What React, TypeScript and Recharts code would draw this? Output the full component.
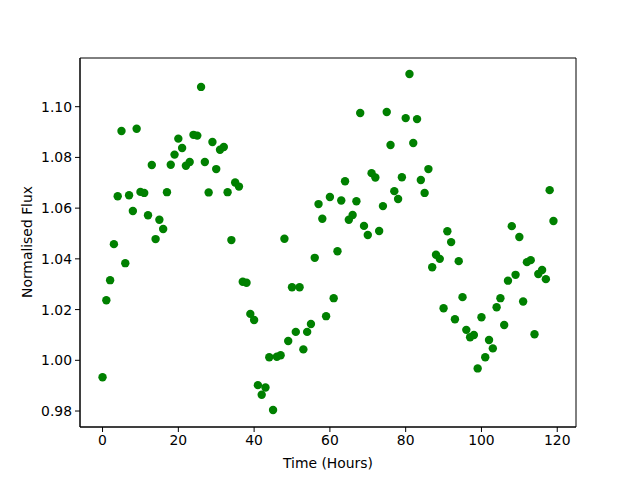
import React from 'react';
import {
  ScatterChart,
  Scatter,
  XAxis,
  YAxis,
  ReferenceArea,
} from 'recharts';

// Hour index of each sample
const hours: number[] = Array.from({ length: 120 }, (_, i) => i);

// Normalised flux
const flux: number[] = [
  0.9933, 1.0237, 1.0316, 1.0458, 1.0647, 1.0904, 1.0383, 1.0651, 1.0589, 1.0913,
  1.0664, 1.066, 1.0572, 1.077, 1.0478, 1.0554, 1.0518, 1.0663, 1.0771, 1.0811,
  1.0874, 1.0837, 1.0767, 1.0782, 1.0889, 1.0886, 1.1078, 1.0782, 1.0662, 1.0861,
  1.0754, 1.083, 1.0841, 1.0663, 1.0474, 1.0701, 1.0685, 1.031, 1.0306, 1.0183,
  1.0159, 0.9902, 0.9864, 0.9893, 1.0012, 0.9804, 1.0014, 1.002, 1.0479, 1.0076,
  1.0288, 1.0112, 1.0288, 1.0043, 1.0112, 1.0143, 1.0404, 1.0616, 1.0558, 1.0174,
  1.0644, 1.0245, 1.043, 1.063, 1.0706, 1.0554, 1.0573, 1.0627, 1.0975, 1.053,
  1.0494, 1.0738, 1.0721, 1.051, 1.0608, 1.0979, 1.0849, 1.0667, 1.0636, 1.0722,
  1.0955, 1.1129, 1.0857, 1.0951, 1.0711, 1.066, 1.0754, 1.0367, 1.0416, 1.04,
  1.0205, 1.0509, 1.0466, 1.0162, 1.0391, 1.0249, 1.012, 1.0091, 1.01, 0.9968,
  1.017, 1.0012, 1.008, 1.0047, 1.0209, 1.0245, 1.0139, 1.0314, 1.0529, 1.0337,
  1.0486, 1.0232, 1.0387, 1.0395, 1.0103, 1.034, 1.0356, 1.032, 1.0671, 1.0549,
];

const xTicks = [0, 20, 40, 60, 80, 100, 120];
const yTicks = [0.98, 1.0, 1.02, 1.04, 1.06, 1.08, 1.1];

const X_DOMAIN: [number, number] = [-5.95, 124.95];
const Y_DOMAIN: [number, number] = [0.9737, 1.1192];

const FONT = 'DejaVu Sans, sans-serif';
const FONT_SIZE = 13.9;

const points = hours.map((h, i) => ({ x: h, y: flux[i] }));

const Dot = (props: any) => (
  <circle cx={props.cx} cy={props.cy} r={4.2} fill="#008000" />
);

export default function App() {
  return (
    <div style={{ position: 'absolute', left: 0, top: 0, width: 640, height: 480, background: '#fff' }}>
      <ScatterChart
        width={640}
        height={480}
        margin={{ top: 58, right: 64, bottom: 13, left: 20 }}
      >
        <XAxis
          type="number"
          dataKey="x"
          domain={X_DOMAIN}
          ticks={xTicks}
          allowDataOverflow
          height={40}
          tickSize={5}
          tickMargin={3}
          axisLine={{ stroke: '#000' }}
          tickLine={{ stroke: '#000' }}
          tick={{ fill: '#000', fontSize: FONT_SIZE, fontFamily: FONT }}
          label={{
            content: () => (
              <text x={328} y={468} textAnchor="middle" fontSize={FONT_SIZE} fontFamily={FONT} fill="#000">
                Time (Hours)
              </text>
            ),
          }}
        />
        <YAxis
          type="number"
          dataKey="y"
          domain={Y_DOMAIN}
          ticks={yTicks}
          allowDataOverflow
          width={60}
          tickSize={5}
          tickMargin={3}
          tickFormatter={(v: number) => v.toFixed(2)}
          axisLine={{ stroke: '#000' }}
          tickLine={{ stroke: '#000' }}
          tick={{ fill: '#000', fontSize: FONT_SIZE, fontFamily: FONT }}
          label={{
            content: () => (
              <text
                x={32}
                y={242}
                textAnchor="middle"
                fontSize={FONT_SIZE}
                fontFamily={FONT}
                fill="#000"
                transform="rotate(-90 32 242)"
              >
                Normalised Flux
              </text>
            ),
          }}
        />
        <ReferenceArea
          x1={X_DOMAIN[0]}
          x2={X_DOMAIN[1]}
          y1={Y_DOMAIN[0]}
          y2={Y_DOMAIN[1]}
          fill="none"
          stroke="#000"
          strokeWidth={1}
        />
        <Scatter data={points} shape={Dot} isAnimationActive={false} />
      </ScatterChart>
    </div>
  );
}
